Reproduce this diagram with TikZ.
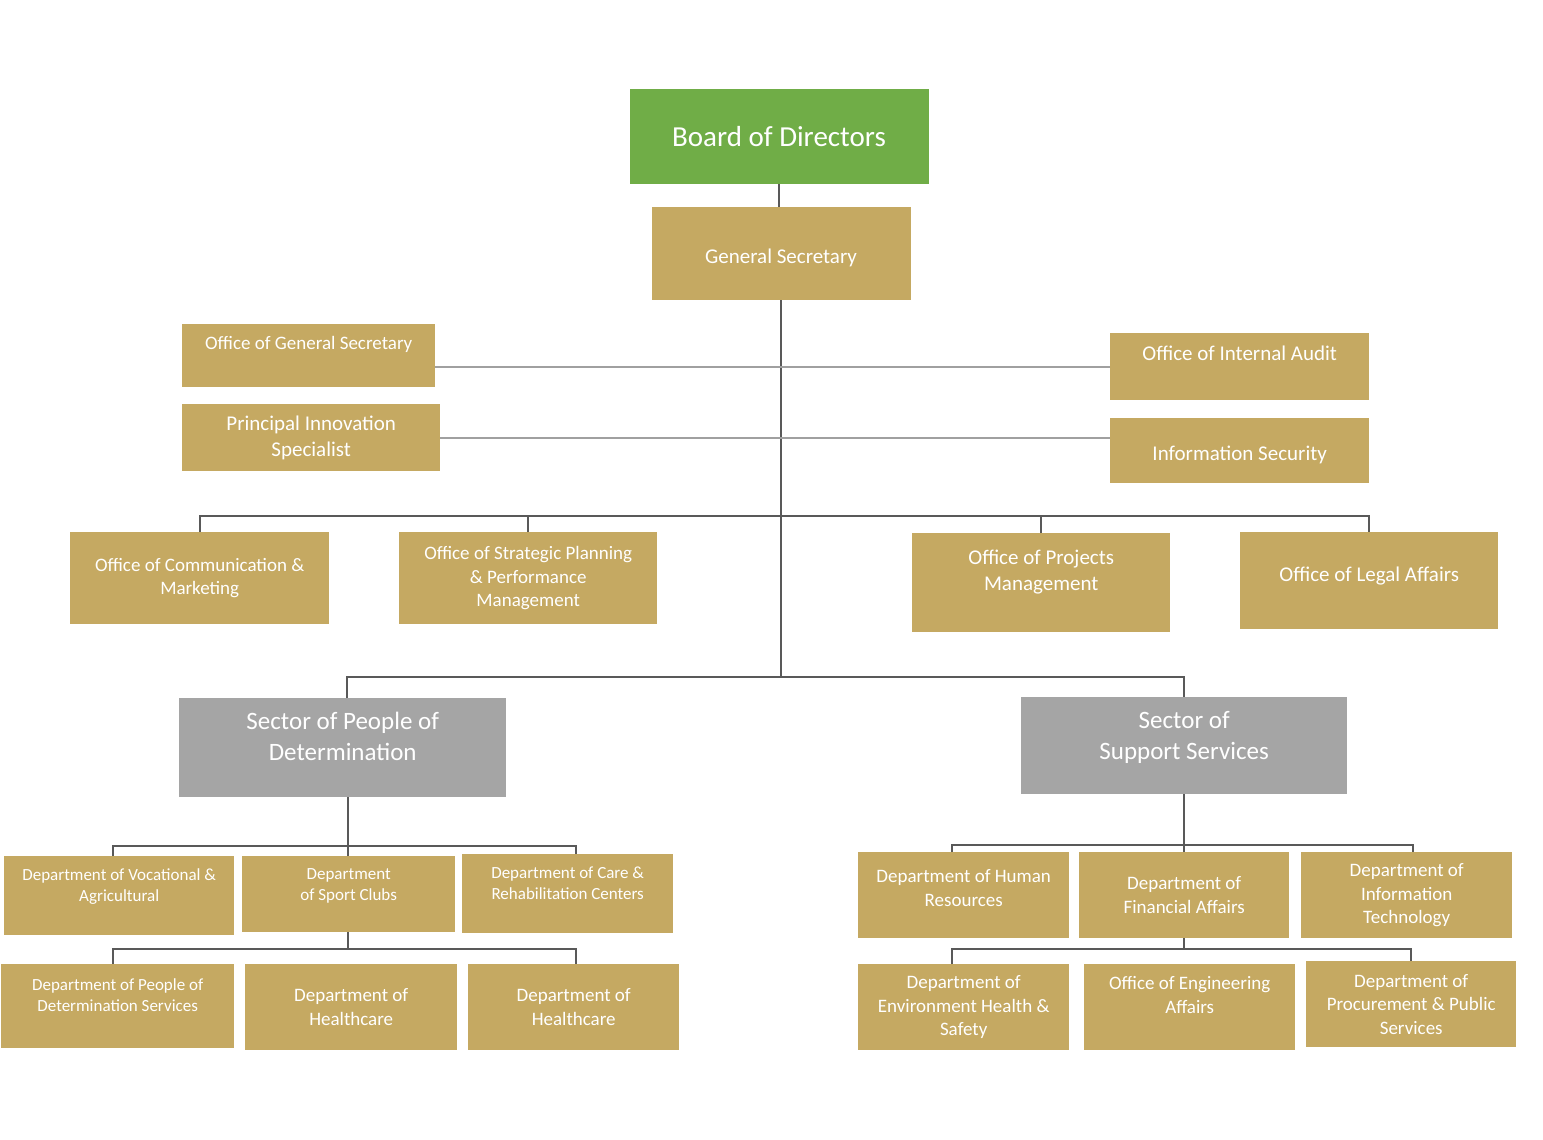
\documentclass[tikz,border=0pt]{standalone}
\usepackage{fontspec}
\setmainfont{Carlito}
\definecolor{gold}{RGB}{197,169,98}
\definecolor{board}{RGB}{112,173,71}
\definecolor{sector}{RGB}{165,165,165}
\definecolor{wire}{RGB}{89,89,89}
\definecolor{sidewire}{RGB}{160,160,160}
\tikzset{
  unit/.style={fill=gold, text=white, align=center, inner sep=0pt, anchor=north west},
  link/.style={draw=wire, line width=2pt},
  sidelink/.style={draw=sidewire, line width=2pt},
  lift/.style={text depth=#1},
  sink/.style={text height=#1},
  f17/.style={font=\fontsize{17}{21}\selectfont},
  f19/.style={font=\fontsize{19}{23.5}\selectfont},
  f21/.style={font=\fontsize{21}{26}\selectfont},
  f25/.style={font=\fontsize{25}{31}\selectfont},
}
\begin{document}
\begin{tikzpicture}[x=1pt,y=-1pt]
    \fill[white] (0,0) rectangle (1543,1140);
    \useasboundingbox (0,0) rectangle (1543,1140);

    % top of the chart
    \node[unit, anchor=north, fill=board, minimum width=299, minimum height=95,
        font=\fontsize{29}{34}\selectfont] (bod) at (779,89) {Board of Directors};
    \node[unit, anchor=north, f21, minimum width=259, minimum height=93, sink=22pt] (gs) at (781,207) {General Secretary};

    % offices beside the trunk
    \node[unit, f19, minimum width=253, minimum height=63, lift=25pt] (ogs) at (182,324) {Office of General Secretary};
    \node[unit, f21, minimum width=258, minimum height=67] (pis) at (182,404) {Principal Innovation\\Specialist};
    \node[unit, f21, minimum width=259, minimum height=67, lift=27pt] (oia) at (1110,333) {Office of Internal Audit};
    \node[unit, f21, minimum width=259, minimum height=65, sink=22pt] (ois) at (1110,418) {Information Security};

    % offices under the general secretary
    \node[unit, f19, minimum width=259, minimum height=92] (ocm) at (70,532) {Office of Communication \&\\Marketing};
    \node[unit, f19, minimum width=258, minimum height=92] (osp) at (399,532) {Office of Strategic Planning\\\& Performance\\Management};
    \node[unit, f21, minimum width=258, minimum height=99, lift=24pt] (opm) at (912,533) {Office of Projects\\Management};
    \node[unit, f21, minimum width=258, minimum height=97, lift=12pt] (olm) at (1240,532) {Office of Legal Affairs};

    % sectors
    \node[unit, fill=sector, f25, minimum width=327, minimum height=99, lift=22pt] (spd) at (179,698) {Sector of People of\\Determination};
    \node[unit, fill=sector, f25, minimum width=326, minimum height=97, lift=20pt] (sss) at (1021,697) {Sector of\\Support Services};

    % departments of people of determination
    \node[unit, f17, minimum width=230, minimum height=79, lift=22pt] (dva) at (4,856) {Department of Vocational \&\\Agricultural};
    \node[unit, f17, minimum width=213, minimum height=76, lift=19pt] (dsc) at (242,856) {Department\\of Sport Clubs};
    \node[unit, f17, minimum width=211, minimum height=79, lift=22pt] (dcr) at (462,854) {Department of Care \&\\Rehabilitation Centers};
    \node[unit, f17, minimum width=233, minimum height=84, lift=23pt] (dps) at (1,964) {Department of People of\\Determination Services};
    \node[unit, f19, minimum width=212, minimum height=86] (dh1) at (245,964) {Department of\\Healthcare};
    \node[unit, f19, minimum width=211, minimum height=86] (dh2) at (468,964) {Department of\\Healthcare};

    % departments of support services
    \node[unit, f19, minimum width=211, minimum height=86, lift=14pt] (dhr) at (858,852) {Department of Human\\Resources};
    \node[unit, f19, minimum width=210, minimum height=86] (dfa) at (1079,852) {Department of\\Financial Affairs};
    \node[unit, f19, minimum width=211, minimum height=86] (dit) at (1301,852) {Department of\\Information\\Technology};
    \node[unit, f19, minimum width=211, minimum height=86] (deh) at (858,964) {Department of\\Environment Health \&\\Safety};
    \node[unit, f19, minimum width=211, minimum height=86, lift=25pt] (den) at (1084,964) {Office of Engineering\\Affairs};
    \node[unit, f19, minimum width=210, minimum height=86] (dpr) at (1306,961) {Department of\\Procurement \& Public\\Services};

    \coordinate (busA) at (0,516);
    \coordinate (busB) at (0,677);
    \coordinate (busL) at (0,846);
    \coordinate (busL2) at (0,949);
    \coordinate (busR) at (0,845);
    \coordinate (busR2) at (0,949);

    % trunk
    \draw[link] (bod.south) -- (gs.north -| bod.south);
    \draw[link] (gs.south) -- (gs.south |- busB);

    % side lines
    \draw[sidelink] (oia.west) -- (oia.west -| ogs.east);
    \draw[sidelink] (pis.east) -- (pis.east -| ois.west);

    % offices bus
    \draw[link] (ocm.north) -- (ocm.north |- busA) -| (olm.north);
    \draw[link] (osp.north) -- (osp.north |- busA);
    \draw[link] (opm.north) -- (opm.north |- busA);

    % sectors bus
    \draw[link] ([xshift=4pt]spd.north) -- ([xshift=4pt]spd.north |- busB) -| (sss.north);

    % people of determination
    \draw[link] ([xshift=-1pt]dsc.north) -- ([xshift=-1pt]dsc.north |- spd.south);
    \draw[link] ([xshift=-6pt]dva.north) -- ([xshift=-6pt]dva.north |- busL) -| ([xshift=8pt]dcr.north);
    \draw[link] ([xshift=-1pt]dsc.south) -- ([xshift=-1pt]dsc.south |- busL2);
    \draw[link] ([xshift=-5pt]dps.north) -- ([xshift=-5pt]dps.north |- busL2) -| ([xshift=2pt]dh2.north);

    % support services
    \draw[link] (dfa.north) -- (dfa.north |- sss.south);
    \draw[link] ([xshift=-12pt]dhr.north) -- ([xshift=-12pt]dhr.north |- busR) -| ([xshift=6pt]dit.north);
    \draw[link] (dfa.south) -- (dfa.south |- busR2);
    \draw[link] ([xshift=-12pt]deh.north) -- ([xshift=-12pt]deh.north |- busR2) -| (dpr.north);
\end{tikzpicture}
\end{document}
